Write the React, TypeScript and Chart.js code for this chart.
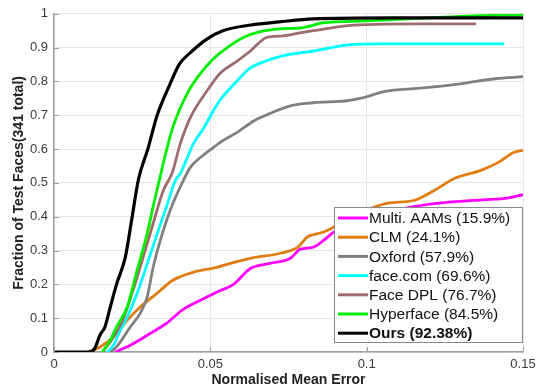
import React, { useEffect, useRef } from "react";
import { Chart, registerables } from "chart.js";

Chart.register(...registerables);

const xTicks = [0, 0.05, 0.1, 0.15];
const yTicks = [0, 0.1, 0.2, 0.3, 0.4, 0.5, 0.6, 0.7, 0.8, 0.9, 1];

const seriesLabels = [
  "Multi. AAMs (15.9%)",
  "CLM (24.1%)",
  "Oxford (57.9%)",
  "face.com (69.6%)",
  "Face DPL (76.7%)",
  "Hyperface (84.5%)",
  "Ours (92.38%)",
];

const aamX = [0.0196, 0.0244, 0.0308, 0.036, 0.041, 0.0468, 0.052, 0.0574, 0.0628, 0.069, 0.0756, 0.0788, 0.083, 0.0875, 0.0894, 0.1, 0.11, 0.123, 0.137, 0.145, 0.15];
const aamY = [0, 0.02, 0.055, 0.085, 0.124, 0.153, 0.177, 0.2, 0.247, 0.262, 0.277, 0.304, 0.31, 0.34, 0.354, 0.39, 0.42, 0.44, 0.45, 0.455, 0.465];

const clmX = [0.011, 0.0147, 0.019, 0.0234, 0.0276, 0.033, 0.038, 0.0446, 0.052, 0.0564, 0.0628, 0.0724, 0.078, 0.081, 0.086, 0.0894, 0.0926, 0.1, 0.1067, 0.115, 0.122, 0.128, 0.1365, 0.142, 0.147, 0.15];
const clmY = [0, 0.015, 0.044, 0.094, 0.133, 0.174, 0.212, 0.236, 0.25, 0.262, 0.277, 0.292, 0.31, 0.34, 0.354, 0.369, 0.395, 0.42, 0.44, 0.448, 0.48, 0.513, 0.537, 0.56, 0.59, 0.596];

const oxfordX = [0.018, 0.02, 0.0244, 0.0276, 0.0298, 0.0317, 0.034, 0.0372, 0.041, 0.0436, 0.0468, 0.051, 0.054, 0.0587, 0.064, 0.069, 0.0756, 0.083, 0.094, 0.099, 0.1055, 0.117, 0.13, 0.141, 0.15];
const oxfordY = [0, 0.015, 0.074, 0.115, 0.162, 0.25, 0.33, 0.42, 0.5, 0.546, 0.575, 0.605, 0.625, 0.65, 0.684, 0.705, 0.728, 0.737, 0.743, 0.752, 0.77, 0.78, 0.793, 0.808, 0.814];

const faceComX = [0.017, 0.019, 0.021, 0.0234, 0.0266, 0.0298, 0.033, 0.036, 0.0388, 0.0404, 0.0446, 0.048, 0.051, 0.053, 0.0574, 0.0628, 0.068, 0.0734, 0.079, 0.083, 0.094, 0.1045, 0.144];
const faceComY = [0, 0.02, 0.06, 0.103, 0.174, 0.26, 0.35, 0.43, 0.507, 0.528, 0.616, 0.664, 0.714, 0.743, 0.79, 0.84, 0.861, 0.876, 0.885, 0.89, 0.908, 0.911, 0.911];

const dplX = [0.0155, 0.018, 0.02, 0.022, 0.0253, 0.0285, 0.0317, 0.035, 0.0378, 0.0404, 0.0436, 0.049, 0.053, 0.0587, 0.0628, 0.068, 0.0734, 0.079, 0.083, 0.094, 0.115, 0.135];
const dplY = [0, 0.03, 0.06, 0.094, 0.183, 0.28, 0.38, 0.478, 0.53, 0.616, 0.693, 0.773, 0.823, 0.861, 0.89, 0.93, 0.935, 0.944, 0.95, 0.965, 0.97, 0.97];

const hyperX = [0.0154, 0.018, 0.02, 0.0234, 0.0266, 0.0298, 0.0317, 0.034, 0.035, 0.038, 0.0426, 0.0468, 0.051, 0.0554, 0.0606, 0.066, 0.0734, 0.079, 0.086, 0.1, 0.12, 0.134, 0.15];
const hyperY = [0, 0.035, 0.074, 0.133, 0.242, 0.35, 0.43, 0.52, 0.56, 0.664, 0.764, 0.823, 0.867, 0.9, 0.93, 0.947, 0.956, 0.958, 0.973, 0.979, 0.988, 0.994, 0.997];

const oursX = [0, 0.011, 0.013, 0.0147, 0.0163, 0.018, 0.02, 0.0228, 0.025, 0.027, 0.03, 0.033, 0.037, 0.04, 0.0436, 0.049, 0.054, 0.063, 0.072, 0.083, 0.108, 0.15];
const oursY = [0, 0, 0.01, 0.05, 0.074, 0.133, 0.2, 0.28, 0.4, 0.51, 0.6, 0.7, 0.79, 0.85, 0.885, 0.926, 0.95, 0.967, 0.976, 0.985, 0.988, 0.988];

const seriesX = [aamX, clmX, oxfordX, faceComX, dplX, hyperX, oursX];
const seriesY = [aamY, clmY, oxfordY, faceComY, dplY, hyperY, oursY];
const seriesColors = ["#ff00ff", "#e07d10", "#808080", "#00ffff", "#9e6c6c", "#00ee00", "#000000"];

const FONT = "Arial, 'Liberation Sans', sans-serif";

const matlabPlugin = {
  id: "matlabDecor",
  afterDatasetsDraw(chart: any) {
    const { ctx, chartArea } = chart;
    const xs = chart.scales.x;
    const ys = chart.scales.y;
    ctx.save();
    ctx.strokeStyle = "#9a9a9a";
    ctx.lineWidth = 1;
    ctx.beginPath();
    xTicks.forEach((t) => {
      const px = Math.round(xs.getPixelForValue(t)) + 0.5;
      ctx.moveTo(px, chartArea.bottom);
      ctx.lineTo(px, chartArea.bottom - 5);
    });
    yTicks.forEach((t) => {
      const py = Math.round(ys.getPixelForValue(t)) + 0.5;
      ctx.moveTo(chartArea.left, py);
      ctx.lineTo(chartArea.left + 5, py);
    });
    ctx.stroke();

    const bx = 334.5, by = 207.5, bw = 188, bh = 135;
    ctx.fillStyle = "#ffffff";
    ctx.fillRect(bx, by, bw, bh);
    ctx.strokeStyle = "#8a8a8a";
    ctx.lineWidth = 1;
    ctx.strokeRect(bx, by, bw, bh);
    const rowH = 19.2;
    seriesLabels.forEach((label, i) => {
      const cy = 218 + i * rowH;
      ctx.strokeStyle = seriesColors[i];
      ctx.lineWidth = 3;
      ctx.beginPath();
      ctx.moveTo(338, cy);
      ctx.lineTo(368, cy);
      ctx.stroke();
      ctx.fillStyle = "#111";
      ctx.font = (i === 6 ? "bold " : "") + "15.5px " + FONT;
      ctx.textBaseline = "middle";
      ctx.textAlign = "left";
      ctx.fillText(label, 369, cy + 1);
    });
    ctx.restore();
  },
};

export default function App() {
  const ref = useRef<HTMLCanvasElement>(null);
  useEffect(() => {
    if (!ref.current) return;
    const datasets = seriesLabels.map((label, i) => ({
      label,
      data: seriesX[i].map((x, j) => ({ x, y: seriesY[i][j] })),
      borderColor: seriesColors[i],
      backgroundColor: seriesColors[i],
      borderWidth: i === 6 ? 3.2 : 2.8,
      pointRadius: 0,
      cubicInterpolationMode: "monotone",
      fill: false,
      order: 6 - i,
    }));
    const chart = new Chart(ref.current, {
      type: "line",
      data: { datasets },
      options: {
        animation: false,
        responsive: false,
        maintainAspectRatio: false,
        layout: { padding: { top: 13, right: 18, left: 0, bottom: 0 } },
        plugins: { legend: { display: false }, tooltip: { enabled: false } },
        scales: {
          x: {
            type: "linear",
            min: 0,
            max: 0.15,
            afterBuildTicks: (s: any) => {
              s.ticks = xTicks.map((v) => ({ value: v }));
            },
            afterFit: (s: any) => {
              s.height = 37;
            },
            ticks: {
              padding: 5,
              color: "#3a3a3a",
              font: { family: FONT, size: 13 },
              maxRotation: 0,
              callback: (v: any) => String(+Number(v).toFixed(2)),
            },
            grid: { color: "#e6e6e6", drawTicks: false, lineWidth: 1 },
            border: { display: true, color: "#a0a0a0", width: 1.5 },
            title: {
              display: true,
              text: "Normalised Mean Error",
              color: "#222",
              font: { family: FONT, size: 14, weight: "bold" },
              padding: { top: 2, bottom: 0 },
            },
          },
          y: {
            type: "linear",
            min: 0,
            max: 1,
            afterBuildTicks: (s: any) => {
              s.ticks = yTicks.map((v) => ({ value: v }));
            },
            afterFit: (s: any) => {
              s.width = 54;
            },
            ticks: {
              padding: 6,
              color: "#3a3a3a",
              font: { family: FONT, size: 13 },
              callback: (v: any) => String(+Number(v).toFixed(1)),
            },
            grid: { color: "#e6e6e6", drawTicks: false, lineWidth: 1 },
            border: { display: true, color: "#a0a0a0", width: 1.5 },
            title: {
              display: true,
              text: "Fraction of Test Faces(341 total)",
              color: "#222",
              font: { family: FONT, size: 14, weight: "bold" },
              padding: { top: 11, bottom: 0 },
            },
          },
        },
      },
      plugins: [matlabPlugin],
    } as any);
    return () => chart.destroy();
  }, []);
  return (
    <div style={{ position: "absolute", left: 0, top: 0, width: 541, height: 389, background: "#fff" }}>
      <canvas ref={ref} width={541} height={389} style={{ width: 541, height: 389, display: "block" }} />
    </div>
  );
}
